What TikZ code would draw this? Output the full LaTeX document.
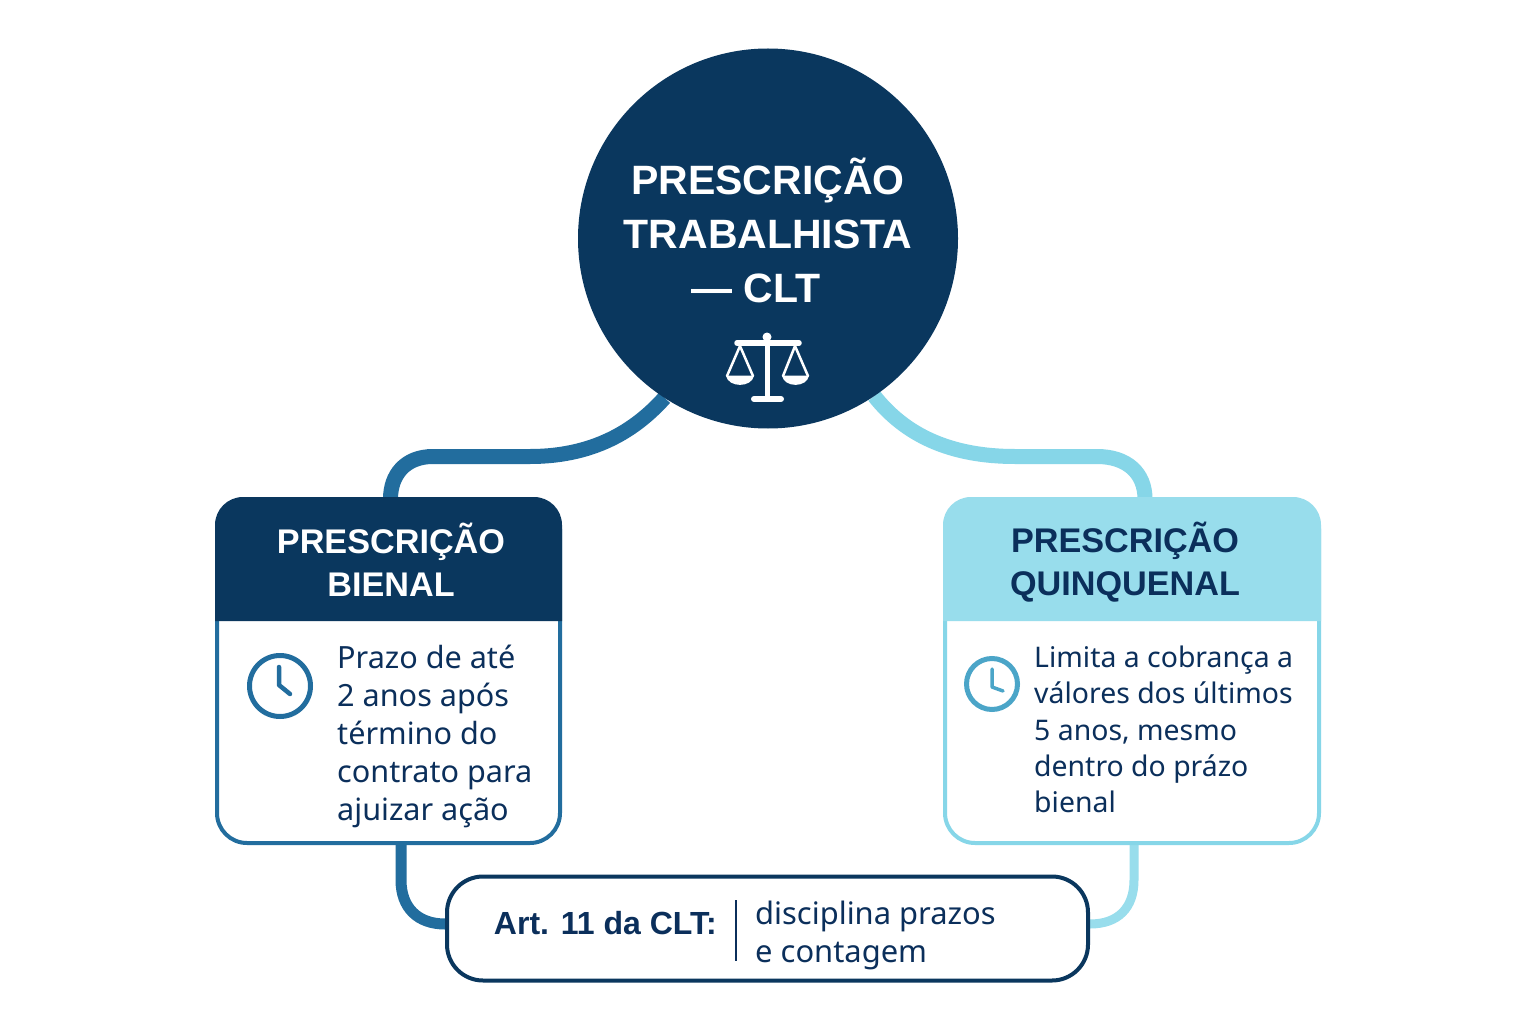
\documentclass[tikz,border=0pt]{standalone}
\usepackage{fontspec}
\setmainfont{Noto Sans}
\newfontfamily\headfont{Liberation Sans}
\pgfdeclarelayer{behind}
\pgfsetlayers{behind,main}
\definecolor{navy}{HTML}{0A375E}
\definecolor{midblue}{HTML}{226D9E}
\definecolor{lightblue}{HTML}{98DDEC}
\definecolor{skyline}{HTML}{86D6E8}
\definecolor{inktext}{HTML}{0B2F5B}
\definecolor{clockb}{HTML}{4BA5C8}
\tikzset{
  x=1pt,y=-1pt,
  titletext/.style={font=\headfont\bfseries\fontsize{41}{54}\selectfont,text=white,align=center,inner sep=0},
  headtext/.style={font=\headfont\bfseries\fontsize{34.2}{43.5}\selectfont,align=center,inner sep=0},
  bodytext/.style={text=inktext,align=left,inner sep=0,anchor=north west},
  cardbody/.style={draw,line width=4pt,fill=white,rounded corners=30pt,inner sep=0,minimum height=344pt},
  linkA/.style={line width=15pt,midblue},
  linkB/.style={line width=15pt,skyline},
  linkC/.style={line width=11pt,midblue},
  linkD/.style={line width=9pt,lightblue},
}
\begin{document}
\begin{tikzpicture}
\useasboundingbox (0,0) rectangle (1536,1024);

\node[circle,fill=navy,minimum size=380pt,inner sep=0,outer sep=0] (hub) at (768,238.5) {};
\node[cardbody,draw=midblue,minimum width=343pt] (left) at (388.5,671) {};
\node[cardbody,draw=skyline,minimum width=374pt] (right) at (1132,671) {};
\node[draw=navy,line width=4pt,fill=white,rounded corners=36pt,minimum width=641pt,minimum height=104pt,inner sep=0] (art) at (767.5,928.5) {};

\coordinate (la) at (390.5,499);
\coordinate (ra) at (1145,499);
\coordinate (lb) at (401,840);
\coordinate (rb) at (1134,840);
\coordinate (lc) at (art.west |- 0,924);
\coordinate (rc) at (art.east |- 0,924);

\begin{pgfonlayer}{behind}
\fill[white] (0,0) rectangle (1536,1024);
\draw[linkA] (hub.237) .. controls (640,425) and (600,456.5) .. (530,456.5) -- (433,456.5) .. controls (405,456.5) and (390.5,475) .. (la);
\draw[linkB] (hub.304) .. controls (905,435) and (950,456.5) .. (1015,456.5) -- (1097,456.5) .. controls (1127,456.5) and (1145,473) .. (ra);
\draw[linkC] (lb) -- (401,880) .. controls (401,908) and (418,924) .. (lc);
\draw[linkD] (rb) -- (1134,880) .. controls (1134,908) and (1118,924) .. (rc);
\end{pgfonlayer}

% hub text
\node[titletext] (title) at (768,230) {PRESCRIÇÃO\\TRABALHISTA\\— CLT\hspace*{24pt}};

% scales icon
\begin{scope}[white,line cap=round,line join=round]
  \fill (767,337) circle (4.5);
  \draw[line width=5.5pt] (737,343) -- (799,343);
  \draw[line width=5pt] (767,343) -- (767,398);
  \draw[line width=6pt] (754,399) -- (781,399);
  \draw[line width=2.5pt] (727,376) -- (740,346) -- (753,376);
  \draw[line width=2.5pt] (783,376) -- (795,346) -- (808,376);
  \fill (726,375.5) .. controls (728,388) and (752,388) .. (754,375.5) -- cycle;
  \fill (782,375.5) .. controls (784,388) and (807,388) .. (809,375.5) -- cycle;
\end{scope}

% left card
\fill[navy] (215,621) [rounded corners=28pt] -- (215,497) -- (562,497) [sharp corners] -- (562,621) -- cycle;
\node[headtext,text=white] (lefthead) at (391,560) {PRESCRIÇÃO\\BIENAL};
\node[circle,draw=midblue,line width=5pt,fill=white,minimum size=61pt,inner sep=0] (leftclock) at (280,686) {};
\draw[midblue,line width=4.5pt,line cap=round,line join=round] (279,667) -- (279,685) -- (290,694);
\node[bodytext,font=\fontsize{30.6}{38}\selectfont] (lefttext) at (337,645) {Prazo de até\\2 anos após\\término do\\contrato para\\ajuizar ação};

% right card
\fill[lightblue] (943,621) [rounded corners=28pt] -- (943,497) -- (1321,497) [sharp corners] -- (1321,621) -- cycle;
\node[headtext,text=inktext] (righthead) at (1125,562) {PRESCRIÇÃO\\QUINQUENAL};
\node[circle,draw=clockb,line width=5pt,fill=white,minimum size=51pt,inner sep=0] (rightclock) at (992,684) {};
\draw[clockb,line width=3.5pt,line cap=round,line join=round] (992,669) -- (992,687) -- (1003,691);
\node[bodytext,font=\fontsize{28.4}{36.2}\selectfont] (righttext) at (1034,646) {Limita a cobrança a\\válores dos últimos\\5 anos, mesmo\\dentro do prázo\\bienal};

% bottom box
\node[font=\headfont\bfseries\fontsize{32}{40}\selectfont,text=inktext,inner sep=0,anchor=east] (artlabel) at (717,923) {Art. 11 da CLT:};
\coordinate (sepa) at (736,900);
\coordinate (sepb) at (736,961);
\draw[inktext,line width=2.5pt] (sepa) -- (sepb);
\node[bodytext,font=\fontsize{30.9}{38}\selectfont] (arttext) at (755,900.5) {disciplina prazos\\e contagem};
\end{tikzpicture}
\end{document}
